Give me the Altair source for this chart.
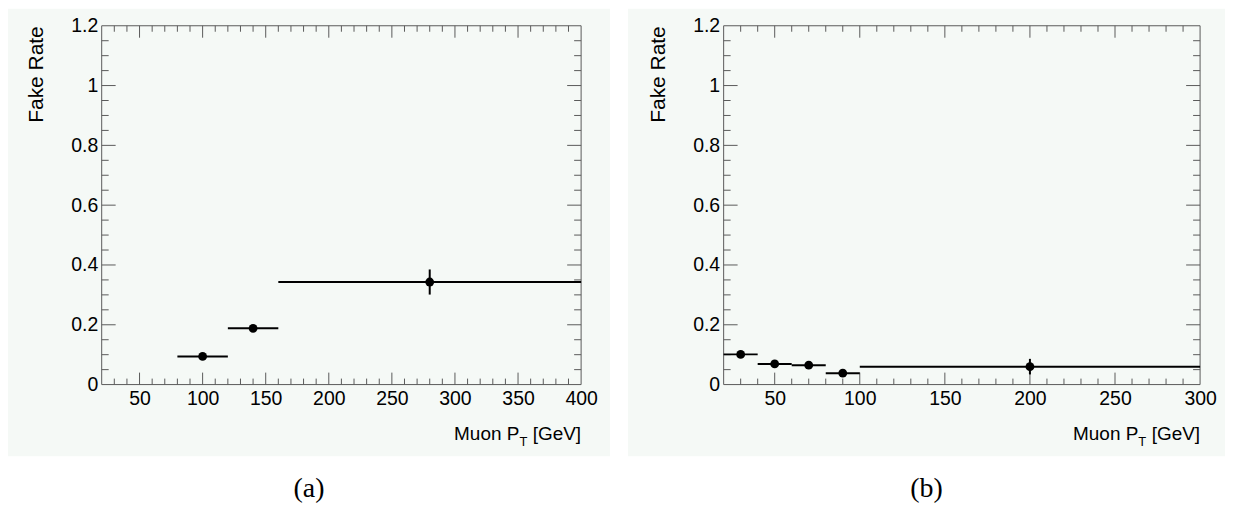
import altair as alt
import pandas as pd

# ---------------- data ----------------
# panel (a)
a_lo = [80, 120, 160]
a_hi = [120, 160, 400]
a_x = [100, 140, 280]
a_y = [0.094, 0.188, 0.343]
a_err = [0.007, 0.008, 0.042]

# panel (b)
b_lo = [20, 40, 60, 80, 100]
b_hi = [40, 60, 80, 100, 300]
b_x = [30, 50, 70, 90, 200]
b_y = [0.101, 0.069, 0.065, 0.038, 0.060]
b_err = [0.009, 0.007, 0.010, 0.012, 0.026]

a_xdomain = [20, 400]
b_xdomain = [20, 300]
ydomain = [0, 1.2]
a_xlabels = [50, 100, 150, 200, 250, 300, 350, 400]
b_xlabels = [50, 100, 150, 200, 250, 300]
ylabels = [0, 0.2, 0.4, 0.6, 0.8, 1, 1.2]
y_title = "Fake Rate"
x_title_main = "Muon P"
x_title_sub = "T"
x_title_unit = "[GeV]"
captions = ["(a)", "(b)"]

# tick positions (axis units)
a_xmajor = [50, 100, 150, 200, 250, 300, 350]
a_xminor = [v for v in range(30, 400, 10) if v % 50]
b_xmajor = [50, 100, 150, 200, 250]
b_xminor = [v for v in range(30, 300, 10) if v % 50]
y_major = [0.2, 0.4, 0.6, 0.8, 1.0]
y_minor = [round(0.05 * i, 2) for i in range(1, 24) if i % 4]

MINT = "#f5f9f6"
FRAME = "#5a5a5a"
SANS = "Liberation Sans"
SERIF = "Liberation Serif"


def panel(lo, hi, xc, yc, err, xdom, xlabels, xmajor, xminor, caption, W, H, ext_l, ext_r):
    df = pd.DataFrame({"lo": lo, "hi": hi, "x": xc, "y": yc,
                       "ylo": [v - e for v, e in zip(yc, err)],
                       "yhi": [v + e for v, e in zip(yc, err)]})
    one = pd.DataFrame({"c": [caption]})
    xs = alt.Scale(domain=xdom, nice=False, zero=False)
    ys = alt.Scale(domain=ydomain, nice=False, zero=False)
    xaxis = alt.Axis(values=xlabels, title=None, domain=False, ticks=False, grid=False,
                     labelFlush=False, labelOverlap=False, labelPadding=5,
                     labelFont=SANS, labelFontSize=19.5, labelColor="black", zindex=1)
    yaxis = alt.Axis(values=ylabels, format="~g", domain=False, ticks=False, grid=False,
                     labelOverlap=False, labelPadding=4, labelFont=SANS, labelFontSize=19.5,
                     labelColor="black", zindex=1,
                     title=y_title, titleFont=SANS, titleFontSize=21, titleFontWeight="normal",
                     titleColor="black", titleAngle=270, titleAlign="right",
                     titleBaseline="alphabetic", titleX=-59, titleY=0)

    def X(f):
        return alt.X(f, scale=xs, axis=xaxis)

    def Y(f):
        return alt.Y(f, scale=ys, axis=yaxis)

    bg = alt.Chart(one).mark_rect(fill=MINT).encode(
        x=alt.value(-ext_l), x2=alt.value(W + ext_r),
        y=alt.value(-17), y2=alt.value(H + 72))
    frame = alt.Chart(one).mark_rect(filled=False, stroke=FRAME, strokeWidth=1).encode(
        x=alt.value(0), x2=alt.value(W), y=alt.value(0), y2=alt.value(H))

    def xt(vals, length):
        d = pd.DataFrame({"v": vals})
        bot = alt.Chart(d).mark_rule(color=FRAME, strokeWidth=1).encode(
            x=X("v:Q"), y=alt.value(H), y2=alt.value(H - length))
        top = alt.Chart(d).mark_rule(color=FRAME, strokeWidth=1).encode(
            x=X("v:Q"), y=alt.value(0), y2=alt.value(length))
        return [bot, top]

    def yt(vals, length):
        d = pd.DataFrame({"v": vals})
        left = alt.Chart(d).mark_rule(color=FRAME, strokeWidth=1).encode(
            y=Y("v:Q"), x=alt.value(0), x2=alt.value(length))
        right = alt.Chart(d).mark_rule(color=FRAME, strokeWidth=1).encode(
            y=Y("v:Q"), x=alt.value(W), x2=alt.value(W - length))
        return [left, right]

    hbar = alt.Chart(df).mark_rule(color="black", strokeWidth=2).encode(
        x=X("lo:Q"), x2="hi:Q", y=Y("y:Q"))
    vbar = alt.Chart(df).mark_rule(color="black", strokeWidth=2).encode(
        x=X("x:Q"), y=Y("ylo:Q"), y2="yhi:Q")
    pts = alt.Chart(df).mark_circle(color="black", opacity=1, size=78).encode(
        x=X("x:Q"), y=Y("y:Q"))

    t_unit = alt.Chart(one).mark_text(text=x_title_unit, font=SANS, fontSize=19, align="right",
                                      baseline="alphabetic", color="black").encode(
        x=alt.value(W), y=alt.value(H + 56))
    t_sub = alt.Chart(one).mark_text(text=x_title_sub, font=SANS, fontSize=13, align="right",
                                     baseline="alphabetic", color="black").encode(
        x=alt.value(W - 54), y=alt.value(H + 62))
    t_main = alt.Chart(one).mark_text(text=x_title_main, font=SANS, fontSize=19, align="right",
                                      baseline="alphabetic", color="black").encode(
        x=alt.value(W - 62), y=alt.value(H + 56))
    cap = alt.Chart(one).mark_text(text=caption, font=SERIF, fontSize=28, align="center",
                                   baseline="middle", color="black").encode(
        x=alt.value((W + ext_r - ext_l) / 2), y=alt.value(H + 105))

    layers = [bg, frame] + xt(xmajor, 12) + xt(xminor, 6) + yt(y_major, 14) + yt(y_minor, 7) \
        + [hbar, vbar, pts, t_unit, t_sub, t_main, cap]
    return alt.layer(*layers).properties(width=W, height=H)


pa = panel(a_lo, a_hi, a_x, a_y, a_err, a_xdomain, a_xlabels, a_xmajor, a_xminor,
           captions[0], 481, 360, 94, 29)
pb = panel(b_lo, b_hi, b_x, b_y, b_err, b_xdomain, b_xlabels, b_xmajor, b_xminor,
           captions[1], 478, 360, 96, 25)

chart = alt.hconcat(pa, pb, spacing=18).properties(padding=0).configure_view(stroke=None)

chart.save("out.html", embed_options={"renderer": "svg", "actions": False})
